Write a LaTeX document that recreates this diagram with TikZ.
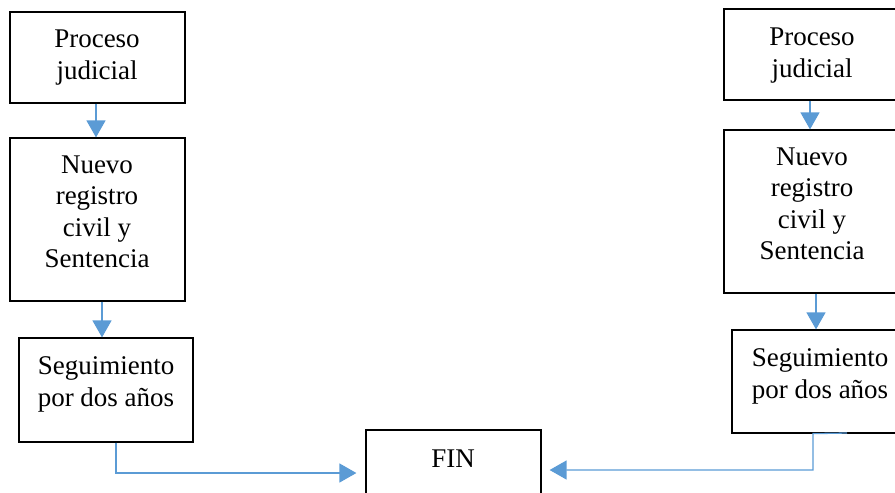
\documentclass[tikz,border=0pt]{standalone}
\usepackage{fontspec}
\setmainfont{Liberation Serif}
\usetikzlibrary{arrows.meta}
\definecolor{conn}{HTML}{5B9BD5}
\begin{document}
\begin{tikzpicture}[x=1pt,y=-1pt,
 box/.style={draw=black, line width=1.2pt, minimum width=175pt, inner sep=0pt},
 txt/.style={align=center, font=\fontsize{27}{31.5}\selectfont, inner sep=0pt},
 arr/.style={draw=conn, line width=1.3pt, -{Triangle[width=19pt,length=17pt]}}]
\useasboundingbox (0,0) rectangle (895,493);
\clip (0,0) rectangle (895,493);
% left column
\node[box, minimum height=91pt] (l1) at (97.5,57.5) {};
\node[box, minimum height=163pt] (l2) at (97.5,219.5) {};
\node[box, minimum width=174pt, minimum height=104pt] (l3) at (106,390) {};
\node[txt] (l1t) at (97,57) {\strut Proceso\\\strut judicial};
\node[txt] (l2t) at (97,214) {\strut Nuevo\\\strut registro\\\strut civil y\\\strut Sentencia};
\node[txt] (l3t) at (106,384) {\strut Seguimiento\\\strut por dos años};
% fin
\node[box, minimum height=100pt] (fin) at (453.5,480) {};
\node[txt] (fint) at (453,461) {\strut FIN};
% right column
\node[box, minimum height=91pt] (r1) at (811.5,54.5) {};
\node[box, minimum height=163pt] (r2) at (811.5,211.5) {};
\node[box, minimum height=103pt] (r3) at (819.5,381.5) {};
\node[txt] (r1t) at (812,55) {\strut Proceso\\\strut judicial};
\node[txt] (r2t) at (812,206) {\strut Nuevo\\\strut registro\\\strut civil y\\\strut Sentencia};
\node[txt] (r3t) at (820,376) {\strut Seguimiento\\\strut por dos años};
% connectors
\coordinate (a1) at (96,0);
\coordinate (a2) at (102,0);
\coordinate (b1) at (810,0);
\coordinate (b2) at (816,0);
\coordinate (c1) at (116,473);
\coordinate (c2s) at (847,433);
\coordinate (c2) at (813,470);
\draw[arr] (l1.south -| a1) -- (l2.north -| a1);
\draw[arr] (l2.south -| a2) -- (l3.north -| a2);
\draw[arr] (r1.south -| b1) -- (r2.north -| b1);
\draw[arr] (r2.south -| b2) -- (r3.north -| b2);
\draw[arr, shorten >=9pt] (l3.south -| c1) -- (c1) -- (fin.west |- c1);
\draw[arr, shorten >=8pt] (c2s) -- (c2 |- r3.south) -- (c2) -- (fin.east |- c2);
\end{tikzpicture}
\end{document}
